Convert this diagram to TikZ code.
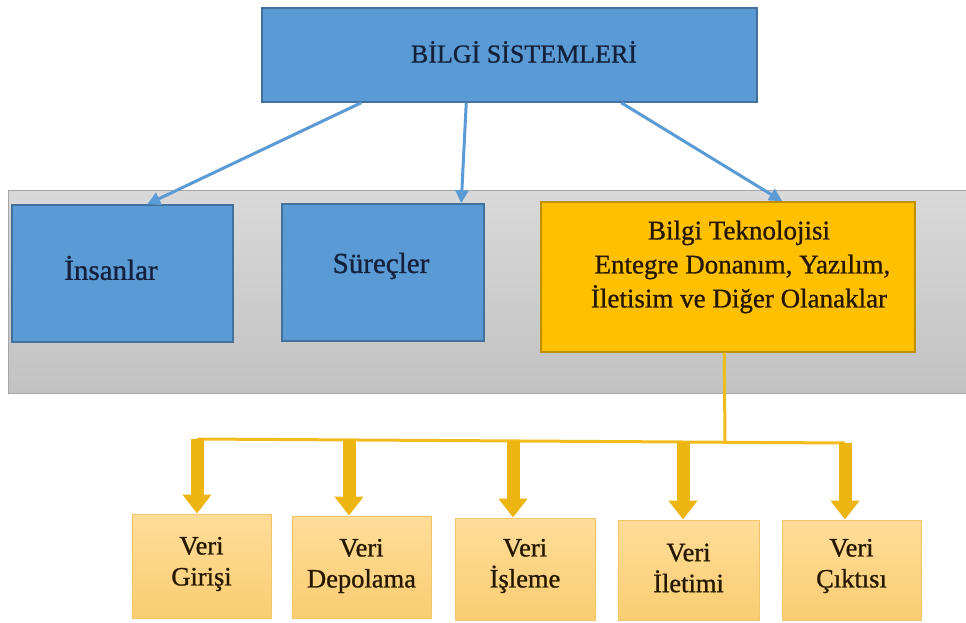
\documentclass[tikz,border=0pt]{standalone}
\usepackage{fontspec}
\setmainfont{Liberation Serif}
\newfontfamily\heavyserif[FakeBold=0.9]{Liberation Serif}
\usetikzlibrary{arrows.meta,calc}
\definecolor{blueF}{HTML}{5B9BD5}
\definecolor{blueD}{HTML}{41719C}
\definecolor{goldF}{HTML}{FFC000}
\definecolor{goldD}{HTML}{BF9000}
\definecolor{grayT}{HTML}{D9D9D9}
\definecolor{grayB}{HTML}{C2C2C2}
\definecolor{grayD}{HTML}{A6A6A6}
\definecolor{botT}{HTML}{FFDC98}
\definecolor{botB}{HTML}{FACD72}
\definecolor{botD}{HTML}{F2C56A}
\definecolor{lineY}{HTML}{F2BC1E}
\definecolor{arrY}{HTML}{EDB512}
\definecolor{navyT}{HTML}{15203A}
\definecolor{brownT}{HTML}{261800}
\tikzset{
  bluebox/.style={draw=blueD, fill=blueF, line width=1.5pt, inner sep=0pt},
  goldbox/.style={draw=goldD, fill=goldF, line width=1.5pt, inner sep=0pt},
  botbox/.style={draw=botD, top color=botT, bottom color=botB, line width=1pt, inner sep=0pt},
  titletext/.style={text=navyT, font=\heavyserif\fontsize{26}{30}\selectfont, inner sep=0pt},
  bluetext/.style={text=navyT, font=\heavyserif\fontsize{29}{32}\selectfont, inner sep=0pt},
  goldtext/.style={text=brownT, font=\heavyserif\fontsize{27}{34}\selectfont, align=center, inner sep=0pt},
  bottext/.style={text=brownT, font=\heavyserif\fontsize{26.5}{31}\selectfont, align=center, inner sep=0pt},
  bluearrow/.style={draw=blueF, line width=3pt, -{Triangle[width=13pt,length=13pt]}},
  yline/.style={draw=lineY, line width=3pt},
  yarrow/.style={draw=arrY, line width=13pt, -{Triangle[width=28pt,length=19pt]}},
}
\begin{document}
\begin{tikzpicture}[x=1pt,y=-1pt]
\useasboundingbox (0,0) rectangle (966,623);
\fill[white] (0,0) rectangle (966,623);
% gray band
\shade[top color=grayT, bottom color=grayB] (8,190) rectangle (966,393);
\draw[grayD, line width=1pt] (966,190) -- (8,190) -- (8,393) -- (966,393);

% top box
\node[bluebox, minimum width=495pt, minimum height=94pt] (top) at (509.5,55) {};
\node[titletext] (topT) at (524,52) {BİLGİ SİSTEMLERİ};

% middle boxes
\node[bluebox, minimum width=221pt, minimum height=137pt] (ins) at (122.5,273.5) {};
\node[bluetext] (insT) at (111,268) {İnsanlar};
\node[bluebox, minimum width=202pt, minimum height=137pt] (sur) at (383,272.5) {};
\node[bluetext] (surT) at (381,266) {Süreçler};
\node[goldbox, minimum width=374pt, minimum height=150pt] (bt) at (728,277) {};
\node[goldtext] (btT) at (739,267) {Bilgi Teknolojisi\\\ Entegre Donanım, Yazılım,\\İletisim ve Diğer Olanaklar};

% blue arrows
\draw[bluearrow] ([xshift=100pt]top.south west) -- ([xshift=136pt]ins.north west);
\draw[bluearrow] ([xshift=205pt]top.south west) -- ([xshift=180pt]sur.north west);
\draw[bluearrow] ([xshift=360pt]top.south west) -- ([xshift=242pt]bt.north west);

% bottom boxes
\node[botbox, minimum width=139pt, minimum height=104pt] (b1) at (201.5,566) {};
\node[botbox, minimum width=139pt, minimum height=102pt] (b2) at (361.5,567) {};
\node[botbox, minimum width=140pt, minimum height=102pt] (b3) at (525,569) {};
\node[botbox, minimum width=141pt, minimum height=100pt] (b4) at (688.5,570) {};
\node[botbox, minimum width=139pt, minimum height=100pt] (b5) at (851.5,570) {};
\node[bottext] (b1T) at (201.5,564) {Veri\\Girişi};
\node[bottext] (b2T) at (361.5,566) {Veri\\Depolama};
\node[bottext] (b3T) at (525,566) {Veri\\İşleme};
\node[bottext] (b4T) at (688.5,568) {Veri\\İletimi};
\node[bottext] (b5T) at (851.5,566) {Veri\\Çıktısı};

% yellow bus
\coordinate (drop) at (725,441);
\coordinate (t1) at (197,439);
\coordinate (t2) at (349,440);
\coordinate (t3) at (513,441);
\coordinate (t4) at (683,442);
\coordinate (t5) at (845,443);
\draw[yline] ([xshift=184pt]bt.south west) -- (drop);
\draw[yline] (t1) -- (t5);
\foreach \i in {1,...,5} {
  \draw[yarrow] (t\i) -- (t\i |- b\i.north);
}
\end{tikzpicture}
\end{document}
